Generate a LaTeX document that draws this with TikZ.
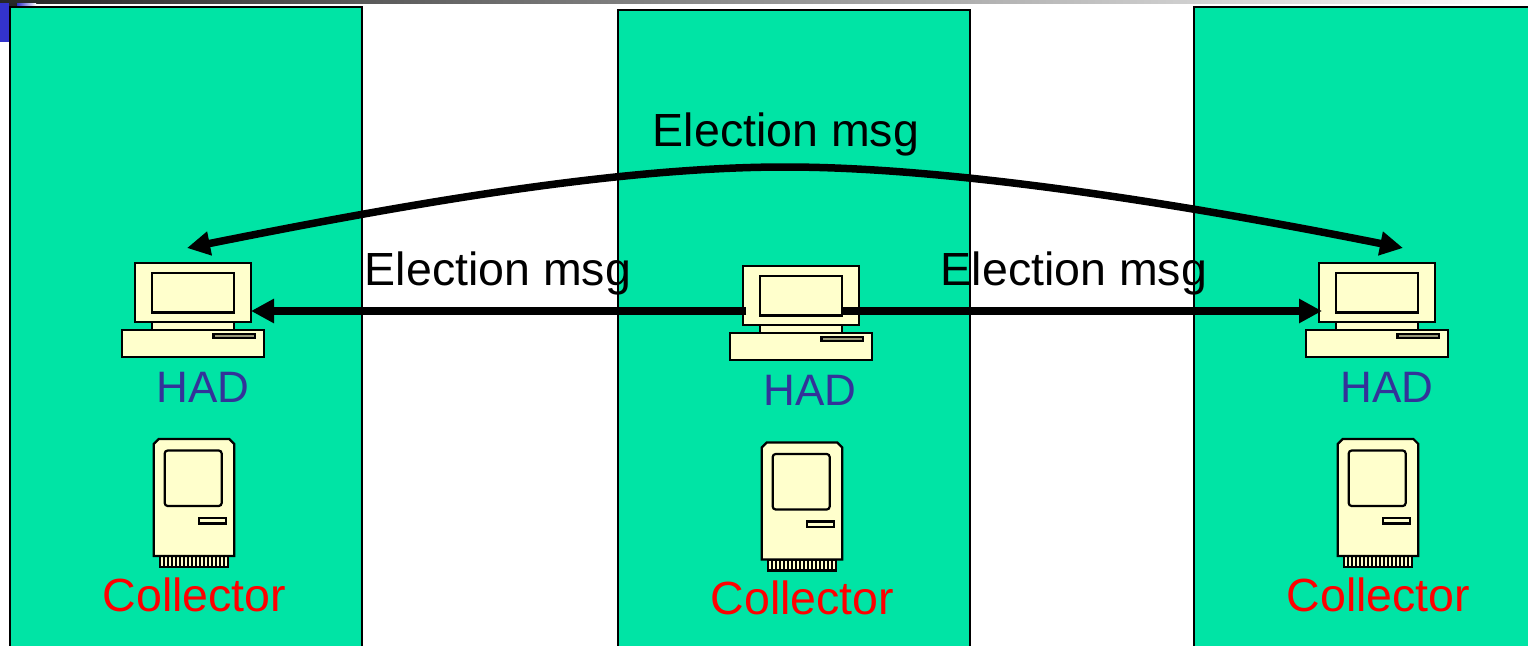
\documentclass[tikz,border=0pt]{standalone}
\usepackage{fontspec}
\setmainfont{Liberation Sans}
\usetikzlibrary{arrows.meta}

\definecolor{panelgreen}{RGB}{0,228,165}
\definecolor{cream}{RGB}{255,255,204}
\definecolor{slotgray}{RGB}{153,153,119}
\definecolor{hadblue}{RGB}{51,51,153}
\definecolor{slideblue}{RGB}{51,51,204}

\tikzset{
    panel/.style={draw=black, line width=2pt, fill=panelgreen, anchor=north west, inner sep=0pt, outer sep=0pt, minimum width=352pt, minimum height=700pt},
    part/.style={draw=black, line width=2.2pt, fill=cream, anchor=north west, inner sep=0pt, outer sep=0pt},
    msg/.style={anchor=base, inner sep=0pt, font=\fontsize{46.5}{50}\selectfont},
    hadlabel/.style={anchor=base, inner sep=0pt, text=hadblue, font=\fontsize{44}{48}\selectfont},
    had/.pic={
        \node (-neck) [part, minimum width=82pt, minimum height=8pt] at (17,59) {};
        \node (-monitor) [part, minimum width=116pt, minimum height=59pt] at (0,0) {};
        \node (-screen) [part, minimum width=82pt, minimum height=39.5pt] at (17,10) {};
        \node (-base) [part, minimum width=142pt, minimum height=27pt] at (-13,67) {};
        \node (-slot) [part, fill=slotgray, minimum width=41.5pt, minimum height=4pt] at (78.5,71) {};
    },
    collector/.pic={
        \node (-plug) [part, minimum width=68pt, minimum height=11pt] at (6.3,117) {};
        \foreach \x in {1,...,16}
            \draw[line width=2pt] (6.3+4*\x,117) -- (6.3+4*\x,128);
        \draw[part] (0,117) -- (0,5) -- (5,0) -- (75.6,0) -- (80.6,5) -- (80.6,117) -- cycle;
        \node (-screen) [part, rounded corners=3pt, minimum width=57pt, minimum height=55.5pt] at (11,11.5) {};
        \node (-slot) [part, minimum width=27pt, minimum height=5.5pt] at (45,79) {};
    }
}

\begin{document}
\begin{tikzpicture}[x=1pt, y=-1pt, >={Triangle[length=23pt, width=23pt]}]

            \useasboundingbox (0,0) rectangle (1528,645);
            \clip (0,0) rectangle (1528,645);

            % slide header
            \fill[left color=black!85, right color=white] (0,0) rectangle (1528,3);
            \fill[left color=slideblue, right color=white] (17,3) rectangle (36,7);
            \fill[black!85] (9,3) rectangle (17,7);
            \fill[slideblue] (0,3) rectangle (9,42);

            \node (panelL) [panel] at (10,7) {};
            \node (panelM) [panel] at (618,10) {};
            \node (panelR) [panel] at (1194,7) {};

            \pic (hadL) at (135,263) {had};
            \pic (hadM) at (743,266) {had};
            \pic (hadR) at (1319,263) {had};

            \pic (colL) at (153.7,439) {collector};
            \pic (colM) at (761.7,442.5) {collector};
            \pic (colR) at (1337.7,439) {collector};

            \node (labelHadL) [hadlabel] at (203,402.5) {HAD};
            \node (labelHadM) [hadlabel] at (810,405.5) {HAD};
            \node (labelHadR) [hadlabel] at (1387,402.5) {HAD};

            \node (labelColL) [msg, text=red] at (194.5,611) {Collector};
            \node (labelColM) [msg, text=red] at (802.5,614) {Collector};
            \node (labelColR) [msg, text=red] at (1378.5,611) {Collector};

            \coordinate (topL) at (187,248);
            \coordinate (topC) at (785,167);
            \coordinate (topR) at (1403,248);
            \coordinate (midL) at (746,311);
            \coordinate (midR) at (842,311);

            \draw[<->, line width=7.5pt] (topL) .. controls (387,208) and (610,167) .. (topC) .. controls (960,167) and (1203,208) .. (topR);
            \draw[->, line width=7.5pt] (midL) -- (midL -| hadL-monitor.east);
            \draw[->, line width=7.5pt, shorten >=-3pt] (midR) -- (midR -| hadR-monitor.west);

            \node (msgTop) [msg] at (786,146) {Election msg};
            \node (msgL) [msg] at (498,285) {Election msg};
            \node (msgR) [msg] at (1074,285) {Election msg};

        \end{tikzpicture}
\end{document}
